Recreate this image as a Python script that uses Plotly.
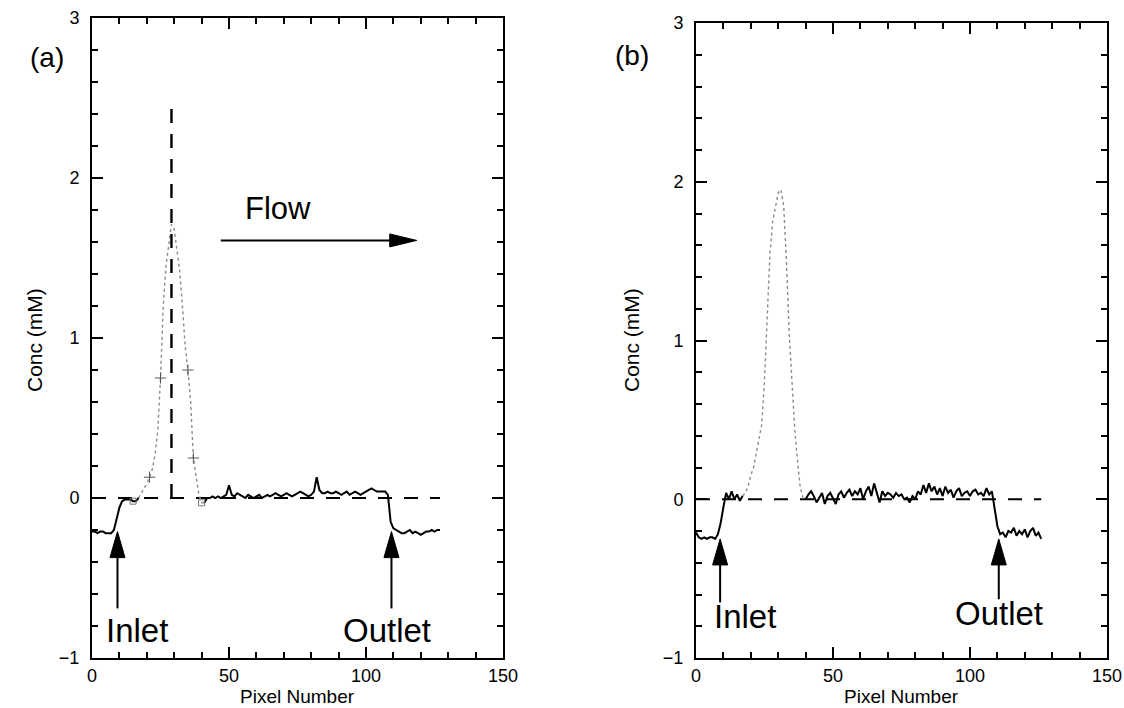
import plotly.graph_objects as go

# ---------------- data ----------------
pixel_a = list(range(0, 128))
conc_a = [
    -0.21, -0.21, -0.22, -0.21, -0.21, -0.22, -0.22, -0.22, -0.20, -0.13,   # 0-9
    -0.06, -0.02, -0.01, -0.01, -0.01, -0.02, -0.02, 0.00, 0.03, 0.06,      # 10-19
    0.09, 0.13, 0.18, 0.27, 0.42, 0.75, 1.20, 1.45, 1.60, 1.71,             # 20-29
    1.68, 1.55, 1.42, 1.20, 0.95, 0.80, 0.60, 0.25, 0.12, 0.02,             # 30-39
    -0.03, -0.03, 0.00, 0.00, 0.01, 0.00, 0.01, 0.00, 0.01, 0.02,           # 40-49
    0.08, 0.02, 0.01, 0.03, 0.02, 0.01, 0.00, 0.02, 0.01, 0.00,             # 50-59
    0.01, 0.02, 0.00, 0.01, 0.02, 0.01, 0.02, 0.03, 0.02, 0.01,             # 60-69
    0.02, 0.03, 0.02, 0.01, 0.02, 0.03, 0.04, 0.03, 0.02, 0.01,             # 70-79
    0.02, 0.04, 0.13, 0.05, 0.03, 0.03, 0.04, 0.03, 0.03, 0.04,             # 80-89
    0.03, 0.02, 0.03, 0.04, 0.02, 0.03, 0.04, 0.03, 0.02, 0.03,             # 90-99
    0.04, 0.05, 0.06, 0.05, 0.04, 0.04, 0.04, 0.04, 0.02, -0.15,            # 100-109
    -0.19, -0.20, -0.21, -0.22, -0.22, -0.21, -0.20, -0.22, -0.21, -0.22,   # 110-119
    -0.23, -0.22, -0.21, -0.21, -0.20, -0.21, -0.20, -0.20,                 # 120-127
]
peak_a = (17, 41)          # first / last pixel of the faint (dotted) peak section
peak_a_marks = [21, 25, 35, 37]
peak_a_squares = [15, 40]
ref_line_a_x = 29
ref_line_a_top = 2.45

pixel_b = list(range(0, 127))
conc_b = [
    -0.21, -0.24, -0.25, -0.24, -0.25, -0.24, -0.24, -0.25, -0.22, -0.15,   # 0-9
    -0.05, 0.04, 0.00, 0.05, 0.00, 0.03, -0.01, 0.02, 0.04, 0.08,           # 10-19
    0.15, 0.20, 0.29, 0.38, 0.47, 0.75, 1.20, 1.55, 1.75, 1.83,             # 20-29
    1.93, 1.95, 1.85, 1.50, 1.05, 0.75, 0.45, 0.25, 0.08, 0.01,             # 30-39
    0.00, 0.03, 0.05, 0.02, -0.02, 0.01, 0.04, -0.03, 0.02, 0.04,           # 40-49
    0.00, -0.03, 0.03, 0.05, 0.01, 0.04, 0.06, 0.02, 0.05, 0.03,            # 50-59
    0.07, 0.00, 0.05, 0.08, 0.02, 0.10, 0.04, -0.02, 0.05, 0.02,            # 60-69
    0.04, 0.03, 0.01, 0.04, 0.02, 0.03, 0.00, 0.01, -0.02, 0.02,            # 70-79
    0.00, 0.05, 0.03, 0.09, 0.04, 0.10, 0.05, 0.08, 0.03, 0.07,             # 80-89
    0.02, 0.08, 0.04, 0.06, 0.01, 0.05, 0.07, 0.02, 0.04, 0.05,             # 90-99
    0.02, 0.05, 0.06, 0.03, 0.04, 0.02, 0.07, 0.03, 0.05, -0.05,            # 100-109
    -0.17, -0.22, -0.21, -0.24, -0.20, -0.21, -0.18, -0.23, -0.20, -0.22,   # 110-119
    -0.19, -0.24, -0.20, -0.18, -0.23, -0.21, -0.25,                        # 120-126
]
peak_b = (17, 40)

x_ticks = [0, 50, 100, 150]
y_ticks = [-1, 0, 1, 2, 3]
x_title = "Pixel Number"
y_title = "Conc (mM)"
panel_labels = ["(a)", "(b)"]

# arrows: (panel, tail_x, tail_y, tip_x, tip_y)
arrows = [
    (1, 9.3, -0.69, 9.3, -0.21),
    (1, 109.3, -0.69, 109.3, -0.21),
    (1, 47, 1.61, 118.5, 1.61),
    (2, 8.8, -0.65, 8.8, -0.25),
    (2, 110.5, -0.63, 110.5, -0.25),
]
# texts: (panel, x, y, text, size)
texts = [
    (1, 16.3, -0.83, "Inlet", 33),
    (1, 107.5, -0.83, "Outlet", 33),
    (1, 68, 1.81, "Flow", 31),
    (2, 18, -0.74, "Inlet", 33),
    (2, 110.5, -0.72, "Outlet", 33),
]

# ---------------- layout geometry ----------------
W, H = 1124, 708
dom_x = {1: [92 / W, 503 / W], 2: [696 / W, 1107 / W]}
dom_y = {1: [1 - 658 / H, 1 - 18 / H], 2: [1 - 658 / H, 1 - 23 / H]}
XR, YR = [0, 150], [-1, 3]

BLACK = "#000000"
GREY = "#8c8c8c"
FONT = "Liberation Sans, Arial, sans-serif"

fig = go.Figure()


def ax(n, kind):
    return kind if n == 1 else f"{kind}{n}"


def add_panel(n, px, cy, peak):
    xa, ya = ax(n, "x"), ax(n, "y")
    # dashed zero reference
    fig.add_trace(go.Scatter(x=[px[0], px[-1]], y=[0, 0], mode="lines",
                             line=dict(color=BLACK, width=2, dash="14px,12px"),
                             xaxis=xa, yaxis=ya, hoverinfo="skip"))
    lo, hi = peak
    # faint peak section
    fig.add_trace(go.Scatter(x=px[lo:hi + 1], y=cy[lo:hi + 1], mode="lines",
                             line=dict(color=GREY, width=1.4, dash="dot"),
                             xaxis=xa, yaxis=ya))
    # solid baseline sections
    fig.add_trace(go.Scatter(x=px[:lo + 1], y=cy[:lo + 1], mode="lines",
                             line=dict(color=BLACK, width=2),
                             xaxis=xa, yaxis=ya))
    fig.add_trace(go.Scatter(x=px[hi:], y=cy[hi:], mode="lines",
                             line=dict(color=BLACK, width=2),
                             xaxis=xa, yaxis=ya))


add_panel(1, pixel_a, conc_a, peak_a)
add_panel(2, pixel_b, conc_b, peak_b)

# markers on the faint peak in (a)
fig.add_trace(go.Scatter(x=[pixel_a[i] for i in peak_a_marks],
                         y=[conc_a[i] for i in peak_a_marks], mode="markers",
                         marker=dict(symbol="cross-thin-open", size=8, color="#555555",
                                     line=dict(color="#555555", width=1)),
                         xaxis="x", yaxis="y"))
fig.add_trace(go.Scatter(x=[pixel_a[i] for i in peak_a_squares],
                         y=[conc_a[i] for i in peak_a_squares], mode="markers",
                         marker=dict(symbol="square-open", size=6, color="#777777",
                                     line=dict(color="#777777", width=1)),
                         xaxis="x", yaxis="y"))
# vertical dashed line in (a)
fig.add_trace(go.Scatter(x=[ref_line_a_x, ref_line_a_x], y=[0, ref_line_a_top],
                         mode="lines",
                         line=dict(color=BLACK, width=2.4, dash="14px,11px"),
                         xaxis="x", yaxis="y", hoverinfo="skip"))

# ---------------- axes ----------------
for n in (1, 2):
    common = dict(showline=True, linewidth=2, linecolor=BLACK, mirror="ticks",
                  ticks="inside", tickwidth=2, tickcolor=BLACK, ticklen=11,
                  showgrid=False, zeroline=False, automargin=False,
                  tickfont=dict(family=FONT, size=18, color=BLACK))
    fig.update_layout(**{
        ax(n, "xaxis"): dict(common, domain=dom_x[n], range=XR, tickvals=x_ticks,
                             anchor=ax(n, "y"), ticklabelstandoff=0,
                             minor=dict(dtick=10, ticks="inside", ticklen=6,
                                        tickwidth=1.5, tickcolor=BLACK)),
        ax(n, "yaxis"): dict(common, domain=dom_y[n], range=YR, tickvals=y_ticks,
                             anchor=ax(n, "x"), ticklabelstandoff=7,
                             minor=dict(dtick=0.2, ticks="inside", ticklen=6,
                                        tickwidth=1.5, tickcolor=BLACK)),
    })

# ---------------- arrows (line + filled head) ----------------
shapes = []
for n, tx, ty, hx, hy in arrows:
    xr, yr = ax(n, "x"), ax(n, "y")
    ux = (XR[1] - XR[0]) / ((dom_x[n][1] - dom_x[n][0]) * W)   # data units per px
    uy = (YR[1] - YR[0]) / ((dom_y[n][1] - dom_y[n][0]) * H)
    if tx == hx:   # vertical arrow pointing up
        hl, hw = 26 * uy, 7.5 * ux
        shapes.append(dict(type="line", xref=xr, yref=yr, x0=tx, y0=ty, x1=hx,
                           y1=hy - hl * 0.8, line=dict(color=BLACK, width=2)))
        shapes.append(dict(type="path", xref=xr, yref=yr,
                           path=f"M{hx - hw},{hy - hl} L{hx},{hy} L{hx + hw},{hy - hl} Z",
                           fillcolor=BLACK, line=dict(color=BLACK, width=1)))
    else:          # horizontal arrow pointing right
        hl, hw = 27 * ux, 6.5 * uy
        shapes.append(dict(type="line", xref=xr, yref=yr, x0=tx, y0=ty,
                           x1=hx - hl * 0.8, y1=hy, line=dict(color=BLACK, width=2)))
        shapes.append(dict(type="path", xref=xr, yref=yr,
                           path=f"M{hx - hl},{hy - hw} L{hx},{hy} L{hx - hl},{hy + hw} Z",
                           fillcolor=BLACK, line=dict(color=BLACK, width=1)))

annotations = []
for n, x, y, t, s in texts:
    annotations.append(dict(x=x, y=y, xref=ax(n, "x"), yref=ax(n, "y"), text=t,
                            showarrow=False, font=dict(family=FONT, size=s, color=BLACK)))
# panel labels
annotations.append(dict(x=28 / W, y=1 - 40 / H, xref="paper", yref="paper",
                        text=panel_labels[0], showarrow=False,
                        font=dict(family=FONT, size=28, color=BLACK)))
annotations.append(dict(x=632 / W, y=1 - 38 / H, xref="paper", yref="paper",
                        text=panel_labels[1], showarrow=False,
                        font=dict(family=FONT, size=28, color=BLACK)))
# axis titles
for n, title_x_px in ((1, 34), (2, 631)):
    annotations.append(dict(x=sum(dom_x[n]) / 2, y=0, xref="paper", yref="paper",
                            xanchor="center", yanchor="bottom", yshift=-1,
                            text=x_title, showarrow=False,
                            font=dict(family=FONT, size=19, color=BLACK)))
    annotations.append(dict(x=title_x_px / W, y=(1 - 340 / H), xref="paper", yref="paper",
                            xanchor="center", yanchor="middle", textangle=-90,
                            text=y_title, showarrow=False,
                            font=dict(family=FONT, size=21, color=BLACK)))

fig.update_layout(width=W, height=H, margin=dict(l=0, r=0, t=0, b=0),
                  paper_bgcolor="white", plot_bgcolor="white", showlegend=False,
                  shapes=shapes, annotations=annotations)

fig.write_html("out.html", config={"displayModeBar": False},
               post_script="document.body.style.margin='0';"
                           "document.body.style.overflow='hidden';")
